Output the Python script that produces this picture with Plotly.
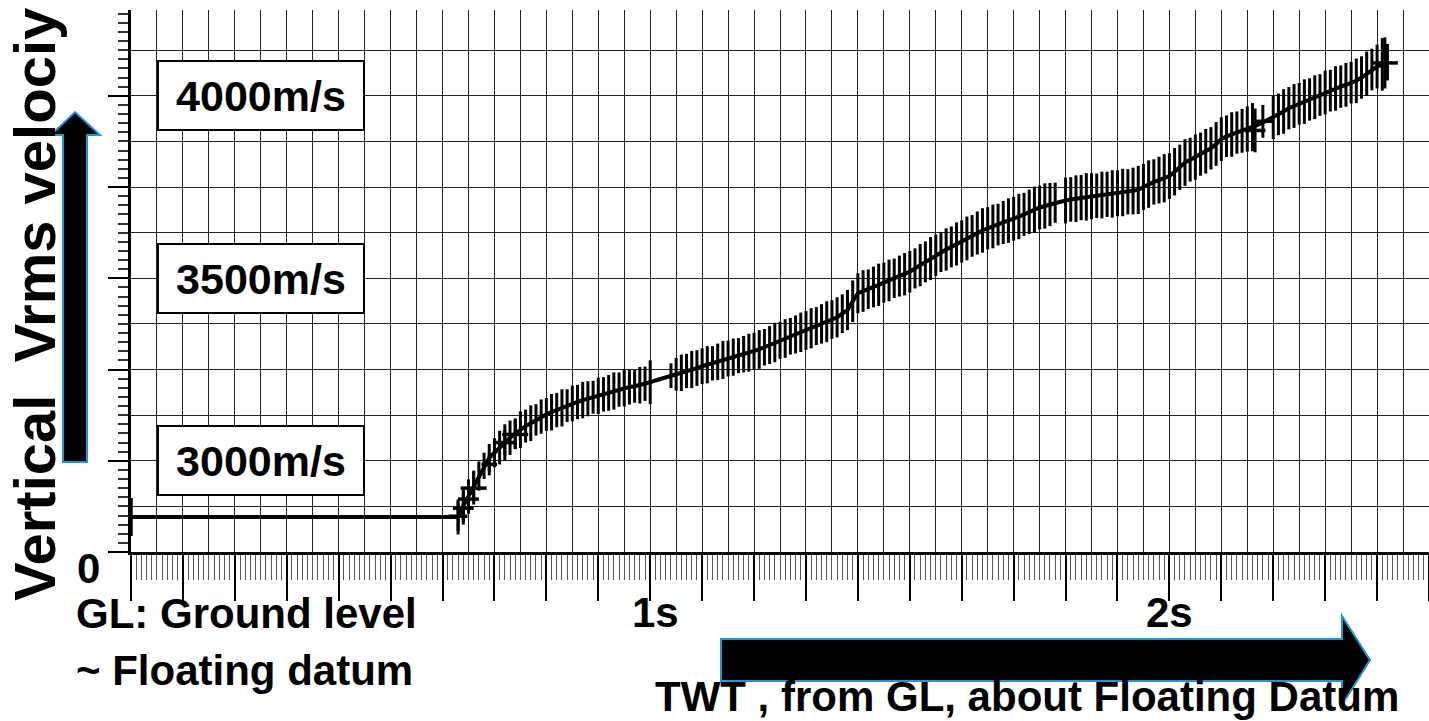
import plotly.graph_objects as go

# ---------------- data ----------------
# TWT sample times (s)
twt = [0.00,
       0.63, 0.64, 0.65, 0.66, 0.67, 0.68, 0.69,
       0.70, 0.71, 0.72, 0.73, 0.74, 0.75, 0.76, 0.77, 0.78, 0.79,
       0.80, 0.81, 0.82, 0.83, 0.84, 0.85, 0.86, 0.87, 0.88, 0.89,
       0.90, 0.91, 0.92, 0.93, 0.94, 0.95, 0.96, 0.97, 0.98, 0.99,
       1.00, 1.01, 1.02, 1.03, 1.04, 1.05, 1.06, 1.07, 1.08, 1.09,
       1.10, 1.11, 1.12, 1.13, 1.14, 1.15, 1.16, 1.17, 1.18, 1.19,
       1.20, 1.21, 1.22, 1.23, 1.24, 1.25, 1.26, 1.27, 1.28, 1.29,
       1.30, 1.31, 1.32, 1.33, 1.34, 1.35, 1.36, 1.37, 1.38, 1.39,
       1.40, 1.41, 1.42, 1.43, 1.44, 1.45, 1.46, 1.47, 1.48, 1.49,
       1.50, 1.51, 1.52, 1.53, 1.54, 1.55, 1.56, 1.57, 1.58, 1.59,
       1.60, 1.61, 1.62, 1.63, 1.64, 1.65, 1.66, 1.67, 1.68, 1.69,
       1.70, 1.71, 1.72, 1.73, 1.74, 1.75, 1.76, 1.77, 1.78, 1.79,
       1.80, 1.81, 1.82, 1.83, 1.84, 1.85, 1.86, 1.87, 1.88, 1.89,
       1.90, 1.91, 1.92, 1.93, 1.94, 1.95, 1.96, 1.97, 1.98, 1.99,
       2.00, 2.01, 2.02, 2.03, 2.04, 2.05, 2.06, 2.07, 2.08, 2.09,
       2.10, 2.11, 2.12, 2.13, 2.14, 2.15, 2.16, 2.17, 2.18, 2.19,
       2.20, 2.21, 2.22, 2.23, 2.24, 2.25, 2.26, 2.27, 2.28, 2.29,
       2.30, 2.31, 2.32, 2.33, 2.34, 2.35, 2.36, 2.37, 2.38, 2.39,
       2.40, 2.41, 2.42]

# Vrms (m/s)
vrms = [2846,
        2846, 2876, 2903, 2931, 2958, 2986, 3008,
        3022, 3036, 3050, 3063, 3074, 3085, 3095, 3103, 3112, 3121,
        3127, 3133, 3139, 3145, 3151, 3157, 3161, 3166, 3170, 3174,
        3178, 3182, 3186, 3191, 3195, 3199, 3202, 3204, 3207, 3211,
        3215, 3220, 3224, 3229, 3233, 3237, 3241, 3246, 3250, 3254,
        3259, 3263, 3267, 3271, 3276, 3280, 3284, 3288, 3292, 3296,
        3300, 3305, 3311, 3317, 3324, 3330, 3335, 3341, 3346, 3352,
        3357, 3363, 3369, 3375, 3381, 3387, 3393, 3403, 3413, 3437,
        3459, 3465, 3470, 3476, 3482, 3488, 3494, 3500, 3506, 3511,
        3518, 3527, 3536, 3545, 3554, 3563, 3572, 3579, 3586, 3594,
        3601, 3609, 3616, 3624, 3631, 3637, 3642, 3647, 3653, 3658,
        3663, 3669, 3675, 3682, 3688, 3694, 3698, 3702, 3707, 3710,
        3713, 3716, 3718, 3721, 3723, 3725, 3726, 3728, 3730, 3731,
        3733, 3735, 3737, 3739, 3742, 3750, 3758, 3764, 3769, 3774,
        3780, 3792, 3804, 3817, 3825, 3832, 3840, 3848, 3856, 3868,
        3881, 3889, 3894, 3899, 3904, 3909, 3914, 3920, 3927, 3934,
        3941, 3949, 3957, 3966, 3972, 3978, 3984, 3990, 3996, 4002,
        4009, 4014, 4020, 4025, 4030, 4036, 4041, 4050, 4061, 4072,
        4080, 4086, 4092]

# vertical uncertainty half-length (m/s)
verr = [52,
        48, 44, 46, 42, 40, 36, 38,
        40, 46, 50, 47, 42, 50, 45, 49, 43, 47,
        45, 50, 47, 51, 45, 49, 47, 50, 48, 45,
        50, 47, 49, 51, 47, 50, 48, 45, 50, 47,
        60, 0, 0, 0, 34, 45, 50, 47, 51, 49,
        49, 51, 47, 50, 52, 49, 51, 48, 50, 52,
        51, 53, 50, 52, 54, 51, 53, 50, 52, 54,
        53, 55, 52, 54, 56, 53, 55, 53, 55, 57,
        55, 57, 54, 56, 58, 55, 57, 54, 56, 58,
        57, 55, 58, 56, 59, 57, 55, 58, 56, 59,
        58, 60, 57, 59, 61, 58, 60, 57, 59, 61,
        60, 62, 59, 61, 63, 60, 62, 59, 55, 0,
        63, 61, 64, 62, 65, 63, 61, 64, 62, 65,
        63, 65, 62, 64, 66, 63, 65, 62, 64, 66,
        63, 65, 62, 64, 60, 62, 59, 61, 58, 60,
        60, 57, 61, 58, 60, 62, 66, 0, 0, 0,
        60, 57, 61, 58, 60, 57, 61, 58, 60, 57,
        60, 57, 61, 58, 60, 57, 61, 58, 60, 57,
        60, 72, 50]

# picks drawn as crosses (horizontal + vertical uncertainty)
cross_t = [0.00, 0.63, 0.64, 0.65, 0.66, 0.69, 0.72, 0.74, 2.165, 2.18, 2.415]
cross_v = [2846, 2848, 2870, 2895, 2925, 2990, 3050, 3072, 3905, 3930, 4090]
cross_dt = [0.02, 0.018, 0.02, 0.02, 0.025, 0.015, 0.02, 0.025, 0.02, 0.02, 0.025]
cross_dv = [52, 40, 45, 40, 45, 30, 35, 40, 60, 45, 70]

box_labels = ["4000m/s", "3500m/s", "3000m/s"]
box_values = [4000, 3500, 3000]
time_labels = ["1s", "2s"]
time_values = [1.01, 2.0]

X_RANGE = [0, 2.5]
Y_RANGE = [2750, 4235]

# ---------------- figure ----------------
W, H = 1429, 721
ML, MR, MT, MB = 131, 0, 10, 169
PW, PH = W - ML - MR, H - MT - MB
FONT = "Liberation Sans, Arial, sans-serif"
BLUE = "#2196d6"


def px(x):
    return (x - ML) / PW


def py(y):
    return (MT + PH - y) / PH


fig = go.Figure()

fig.add_trace(go.Scatter(
    x=twt, y=vrms, mode="lines",
    line=dict(color="black", width=4),
    error_y=dict(type="data", array=verr, symmetric=True,
                 color="black", thickness=3, width=0),
    showlegend=False, hoverinfo="skip"))

fig.add_trace(go.Scatter(
    x=cross_t, y=cross_v, mode="markers",
    marker=dict(size=1, color="black"),
    error_x=dict(type="data", array=cross_dt, color="black", thickness=3.5, width=0),
    error_y=dict(type="data", array=cross_dv, color="black", thickness=3, width=0),
    showlegend=False, hoverinfo="skip", cliponaxis=False))

# helper trace so the overlay grid axes are drawn
fig.add_trace(go.Scatter(x=[None], y=[None], xaxis="x2", yaxis="y2",
                         showlegend=False, hoverinfo="skip"))

fig.update_layout(
    width=W, height=H,
    margin=dict(l=ML, r=MR, t=MT, b=MB, pad=0),
    paper_bgcolor="white", plot_bgcolor="white",
    showlegend=False,
    xaxis=dict(range=X_RANGE, showline=True, linecolor="black", linewidth=3,
               ticks="outside", tick0=0, dtick=0.1, ticklen=46, tickwidth=2,
               tickcolor="black", showticklabels=False,
               showgrid=True, gridcolor="#222", gridwidth=1, zeroline=False,
               minor=dict(ticks="outside", tick0=0, dtick=0.01, ticklen=25,
                          tickwidth=1, tickcolor="#555", showgrid=False)),
    yaxis=dict(range=Y_RANGE, showline=True, linecolor="black", linewidth=3,
               ticks="outside", tick0=2750, dtick=250, ticklen=20, tickwidth=2,
               tickcolor="black", showticklabels=False,
               showgrid=True, gridcolor="#222", gridwidth=1, zeroline=False,
               minor=dict(ticks="outside", tick0=2750, dtick=25, ticklen=10,
                          tickwidth=1.5, tickcolor="#333", showgrid=False)),
    xaxis2=dict(range=X_RANGE, overlaying="x", side="bottom", tick0=0.05, dtick=0.1,
                showgrid=True, gridcolor="#222", gridwidth=1, ticks="",
                showticklabels=False, showline=False, zeroline=False),
    yaxis2=dict(range=Y_RANGE, overlaying="y", side="left", tick0=2875, dtick=250,
                showgrid=True, gridcolor="#222", gridwidth=1, ticks="",
                showticklabels=False, showline=False, zeroline=False),
)

ann = []
for lab, val in zip(box_labels, box_values):
    ann.append(dict(x=0.25, y=val, xref="x", yref="y", text="<b>%s</b>" % lab,
                    showarrow=False, xanchor="center", yanchor="middle",
                    font=dict(family=FONT, size=43, color="black"),
                    bgcolor="white", bordercolor="black", borderwidth=2,
                    borderpad=2, width=200, height=63))
for lab, val in zip(time_labels, time_values):
    ann.append(dict(x=val, y=py(612), xref="x", yref="paper", text="<b>%s</b>" % lab,
                    showarrow=False, xanchor="center", yanchor="middle",
                    font=dict(family=FONT, size=42, color="black")))

text_items = [
    ("0", 88, 568, "center", 42, 0),
    ("GL: Ground level", 74, 613, "left", 42, 0),
    ("~ Floating datum", 74, 670, "left", 42, 0),
    ("TWT , from GL, about Floating Datum", 1027, 696, "center", 42, 0),
    ("Vertical  Vrms velociy", 34, 305, "center", 58, -90),
]
for txt, x, y, anc, size, ang in text_items:
    ann.append(dict(x=px(x), y=py(y), xref="paper", yref="paper",
                    text="<b>%s</b>" % txt, showarrow=False,
                    xanchor=anc, yanchor="middle", textangle=ang,
                    font=dict(family=FONT, size=size, color="black")))
fig.update_layout(annotations=ann)


def path(points):
    return "M " + " L ".join("%.5f,%.5f" % (px(a), py(b)) for a, b in points) + " Z"


h_arrow = [(721, 639), (1342, 639), (1342, 616), (1370, 660),
           (1342, 705), (1342, 681), (721, 681)]
v_arrow = [(63, 462), (63, 135), (51, 135), (75, 112),
           (100, 135), (87, 135), (87, 462)]
fig.update_layout(shapes=[
    dict(type="path", xref="paper", yref="paper", path=path(h_arrow),
         fillcolor="black", line=dict(color=BLUE, width=2), layer="below"),
    dict(type="path", xref="paper", yref="paper", path=path(v_arrow),
         fillcolor="black", line=dict(color=BLUE, width=2), layer="above"),
])

fig.write_html(
    "out.html",
    config={"displayModeBar": False},
    post_script=("document.body.style.margin='0px';"
                 "document.body.style.padding='0px';"
                 "document.body.style.overflow='hidden';"
                 "document.documentElement.style.overflow='hidden';"))
